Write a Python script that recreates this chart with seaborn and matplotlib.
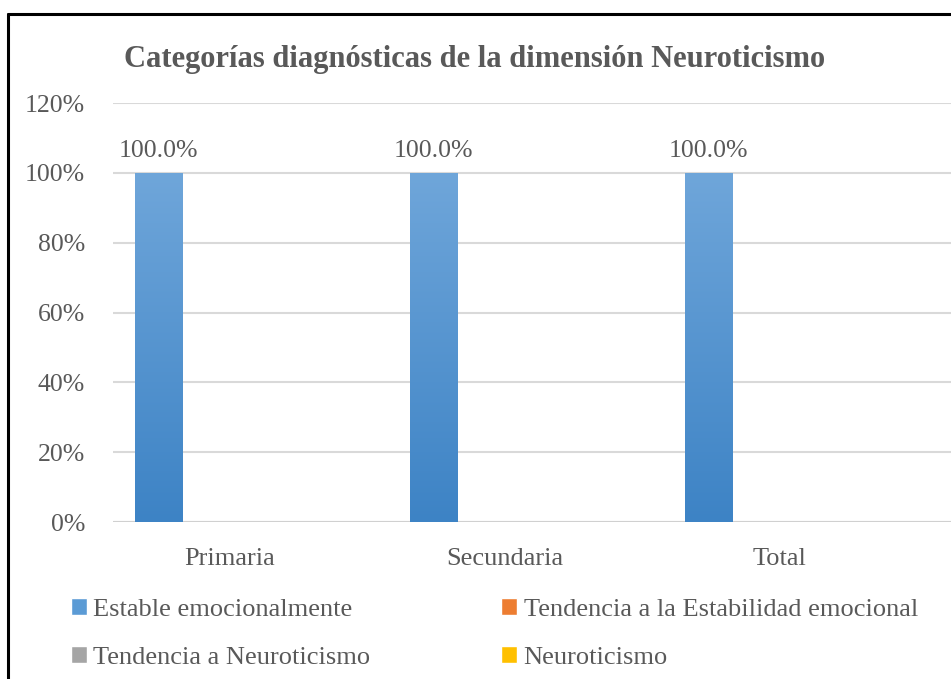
import numpy as np
import pandas as pd
import matplotlib
matplotlib.use("Agg")
import matplotlib.pyplot as plt
import seaborn as sns
from matplotlib.patches import Rectangle
from matplotlib.lines import Line2D

# datos
niveles = ["Primaria", "Secundaria", "Total"]
categorias = ["Estable emocionalmente", "Tendencia a la Estabilidad emocional",
              "Tendencia a Neuroticismo", "Neuroticismo"]
estable = [100.0, 100.0, 100.0]
tend_estable = [0.0, 0.0, 0.0]
tend_neuro = [0.0, 0.0, 0.0]
neuro = [0.0, 0.0, 0.0]
colores = ["#5b9bd5", "#ed7d31", "#a5a5a5", "#ffc000"]

df = pd.DataFrame({
    "nivel": niveles * 4,
    "categoria": np.repeat(categorias, 3),
    "pct": estable + tend_estable + tend_neuro + neuro,
})

sns.set_style("white")
plt.rcParams["font.family"] = ["Liberation Serif", "DejaVu Serif"]
gris = "#595959"

fig = plt.figure(figsize=(9.51, 6.79), dpi=100)
ax = fig.add_axes([0.1188, 0.2312, 0.8812, 0.6171])

sns.barplot(data=df, x="nivel", y="pct", hue="categoria", order=niveles,
            hue_order=categorias, palette=colores, width=0.69, linewidth=0,
            legend=False, ax=ax)

# degradado en las barras
cmap = matplotlib.colors.LinearSegmentedColormap.from_list("b", ["#3d83c5", "#6fa6da"])
for patch in ax.containers[0]:
    x0, y0 = patch.get_x(), patch.get_y()
    w, h = patch.get_width(), patch.get_height()
    grad = np.linspace(0, 1, 256).reshape(-1, 1)
    im = ax.imshow(grad, extent=[x0, x0 + w, y0, y0 + h], origin="lower",
                   aspect="auto", cmap=cmap, zorder=3)
    im.set_clip_path(patch)
    patch.set_zorder(2)

ax.bar_label(ax.containers[0], fmt="%.1f%%", padding=8, fontsize=18.5, color=gris)

ax.set_ylim(0, 120)
ax.set_yticks(range(0, 121, 20))
ax.set_yticklabels([f"{v}%" for v in range(0, 121, 20)], fontsize=18.5, color=gris)
ax.set_xlim(-0.4255, 2.622)
ax.tick_params(axis="x", labelsize=19, labelcolor=gris, length=0, pad=19)
ax.tick_params(axis="y", length=0, pad=20)
ax.set_xlabel("")
ax.set_ylabel("")
ax.grid(axis="y", color="#d9d9d9", linewidth=1.5)
ax.axhline(0, color="#d0d0d0", linewidth=2.2, zorder=1)
ax.set_axisbelow(True)
for s in ax.spines.values():
    s.set_visible(False)

fig.text(0.4995, 0.913, "Categorías diagnósticas de la dimensión Neuroticismo",
         ha="center", va="center", fontsize=22, fontweight="bold", color=gris)

# leyenda en filas: orden de relleno por columnas
orden = [0, 2, 1, 3]
handles = [Rectangle((0, 0), 1, 1, facecolor=colores[i]) for i in orden]
fig.legend(handles, [categorias[i] for i in orden], loc="center left",
           bbox_to_anchor=(0.0747, 0.067), ncol=2, frameon=False, fontsize=19,
           labelcolor=gris, borderpad=0, borderaxespad=0,
           handlelength=0.6, handleheight=0.6, handletextpad=0.25,
           columnspacing=4.95, labelspacing=0.95)

# marco
fig.add_artist(Line2D([8 / 951, 1], [1 - 14 / 679] * 2, color="black", lw=2.2,
                      transform=fig.transFigure))
fig.add_artist(Line2D([8 / 951] * 2, [0, 1 - 14 / 679], color="black", lw=2.2,
                      transform=fig.transFigure))

fig.savefig("out.png", dpi=100)
